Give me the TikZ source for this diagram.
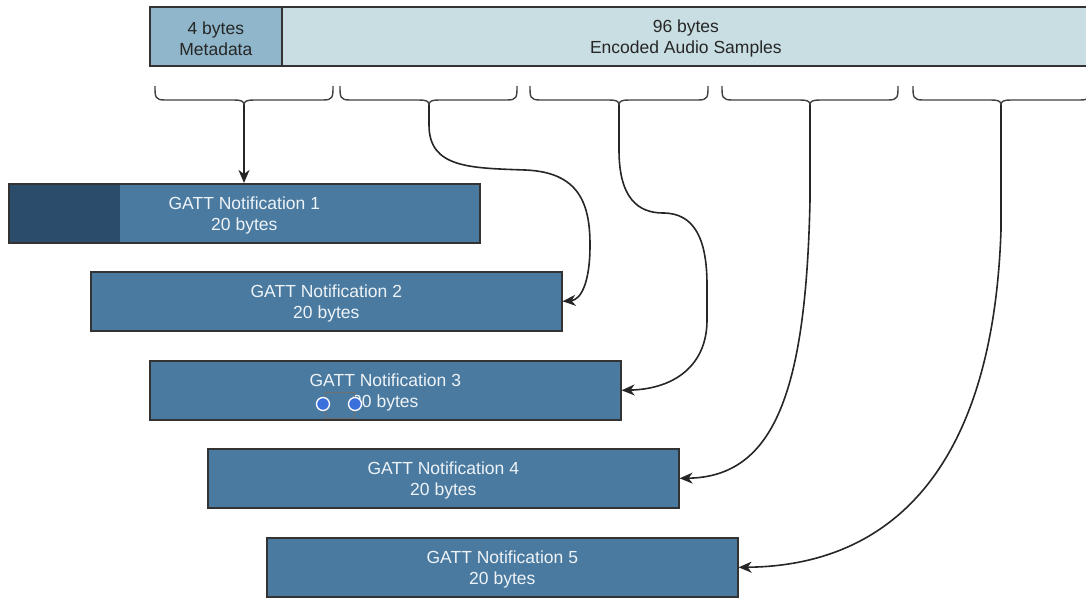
\documentclass[tikz,border=0pt]{standalone}
\usepackage{fontspec}
\setmainfont{Liberation Sans}
\usetikzlibrary{arrows.meta}
\definecolor{gattblue}{HTML}{4A7AA0}
\definecolor{gattdark}{HTML}{2B4D6B}
\definecolor{metablue}{HTML}{8FB6CA}
\definecolor{audiolight}{HTML}{C8DEE2}
\definecolor{edgegray}{HTML}{333333}
\definecolor{boxtext}{HTML}{EEF3F7}
\definecolor{handleblue}{HTML}{3B6FDC}
\newcommand{\tstrut}{\rule{0pt}{16.8pt}}
\tikzset{
  topbox/.style={draw=edgegray, line width=1.7pt, rectangle, inner sep=0pt, minimum height=59pt, anchor=north west, text=black!85, align=center, font=\fontsize{17.5}{21}\selectfont},
  gattbox/.style={draw=edgegray, line width=1.6pt, fill=gattblue, rectangle, inner sep=0pt, minimum width=471pt, minimum height=59pt, anchor=north west, text=boxtext, align=center, font=\fontsize{17.5}{21}\selectfont},
  bracepath/.style={draw=black!75, line width=1.4pt},
  link/.style={draw=black!85, line width=1.6pt, -{Stealth[length=13pt, width=11pt, inset=4pt]}},
  handle/.style={draw=white, line width=1.3pt, fill=handleblue}
}
\begin{document}
\begin{tikzpicture}[x=1pt, y=-1pt]
\useasboundingbox (0,0) rectangle (1086,597);

% top bar
\node[topbox, fill=metablue, minimum width=132pt] (meta) at (149,6) {\tstrut 4 bytes\\Metadata};
\node[topbox, fill=audiolight, minimum width=808pt] (audio) at (281,6) {\tstrut 96 bytes\\Encoded Audio Samples};

% braces
\foreach \l/\r/\c/\n in {155/333/244/1, 340/517/429/2, 530/708/619/3, 722/898/810/4, 913/1090/1001/5}{
  \draw[bracepath] (\l,86) .. controls (\l,97) and (\l,100) .. (\l+10,100)
     -- (\c-10,100) .. controls (\c-3,100) and (\c,101) .. (\c,105)
     .. controls (\c,101) and (\c+3,100) .. (\c+10,100)
     -- (\r-10,100) .. controls (\r,100) and (\r,97) .. (\r,86);
  \coordinate (b\n) at (\c,105);
}

% notifications
\node[gattbox, path picture={\fill[gattdark] (path picture bounding box.north west) rectangle ([xshift=111pt]path picture bounding box.south west);}] (n1) at (8,183) {\tstrut GATT Notification 1\\20 bytes};
\node[gattbox] (n2) at (90,271) {\tstrut GATT Notification 2\\20 bytes};
\node[gattbox] (n3) at (149,360) {\tstrut GATT Notification 3\\20 bytes};
\node[gattbox] (n4) at (207,448) {\tstrut GATT Notification 4\\20 bytes};
\node[gattbox] (n5) at (266,537) {\tstrut GATT Notification 5\\20 bytes};

% connectors
\draw[link] (b1) -- (b1 |- n1.north);
\draw[link] (b2) -- (429,125) .. controls (429,168) and (470,168) .. (525,170)
   .. controls (580,172) and (590,205) .. (590,245)
   .. controls (590,285) and (580,300) .. (n2.east);
\draw[link] (b3) -- (619,150) .. controls (619,198) and (638,213) .. (663,213)
   .. controls (695,213) and (707,240) .. (707,285) -- (707,320)
   .. controls (707,365) and (675,389) .. (n3.east);
\draw[link] (b4) -- (810,200) .. controls (806,390) and (775,477) .. (n4.east);
\draw[link] (b5) -- (1001,230) .. controls (993,470) and (890,566) .. (n5.east);

% selection handles visible in the reference
\draw[edgegray!70, line width=0.7pt] (325,392) rectangle (354,418);
\draw[handle] (323,404) circle (6.5pt);
\draw[handle] (355,404) circle (6.5pt);
\end{tikzpicture}
\end{document}
